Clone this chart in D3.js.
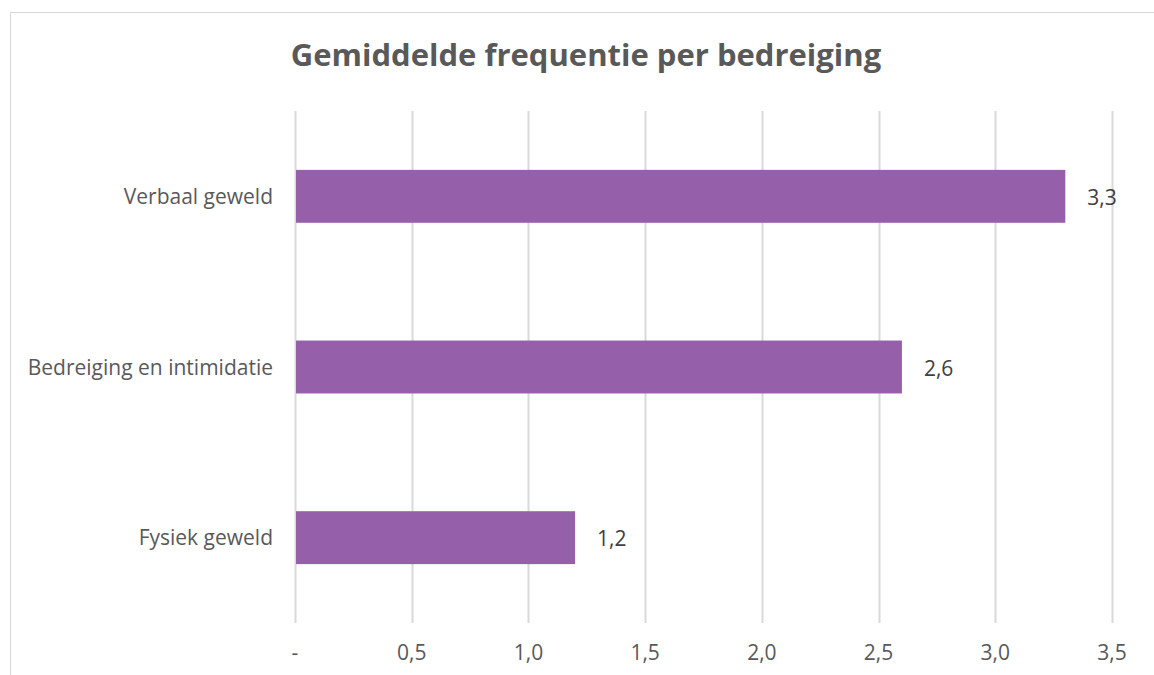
<!DOCTYPE html>
<html>
<head>
<meta charset="utf-8">
<script src="https://cdn.jsdelivr.net/npm/d3@7"></script>
<style>
  body { margin: 0; background: #fff; overflow: hidden; }
  text { font-family: "Open Sans", sans-serif; }
</style>
</head>
<body>
<svg id="chart" width="1154" height="675"></svg>
<script>
// Data
const categories = ["Verbaal geweld", "Bedreiging en intimidatie", "Fysiek geweld"];
const values = [3.3, 2.6, 1.2];
const tickValues = [0, 0.5, 1.0, 1.5, 2.0, 2.5, 3.0, 3.5];
const tickLabels = ["-", "0,5", "1,0", "1,5", "2,0", "2,5", "3,0", "3,5"];
const title = "Gemiddelde frequentie per bedreiging";

const svg = d3.select("#chart");

// chart border (runs off the right/bottom edge like the source)
svg.append("rect")
    .attr("x", 10.5).attr("y", 12.5)
    .attr("width", 1200).attr("height", 700)
    .attr("fill", "none")
    .attr("stroke", "#d9d9d9")
    .attr("stroke-width", 1);

svg.append("text")
    .attr("x", 586).attr("y", 66)
    .attr("text-anchor", "middle")
    .attr("font-size", 31)
    .attr("font-weight", "bold")
    .attr("fill", "#595959")
    .text(title);

const plot = { left: 295, right: 1112, top: 111, bottom: 623 };

const x = d3.scaleLinear()
    .domain([0, 3.5])
    .range([plot.left, plot.right]);

const y = d3.scaleBand()
    .domain(categories)
    .range([plot.top, plot.bottom])
    .paddingInner(0.69)
    .paddingOuter(0.345);

// gridlines
svg.append("g")
    .selectAll("line")
    .data(tickValues)
    .enter().append("line")
    .attr("x1", d => Math.round(x(d)) + 0.5)
    .attr("x2", d => Math.round(x(d)) + 0.5)
    .attr("y1", plot.top)
    .attr("y2", plot.bottom)
    .attr("stroke", "#d9d9d9")
    .attr("stroke-width", 2);

// tick labels
svg.append("g")
    .selectAll("text")
    .data(tickValues)
    .enter().append("text")
    .attr("x", d => x(d))
    .attr("y", 660)
    .attr("text-anchor", "middle")
    .attr("font-size", 21)
    .attr("fill", "#595959")
    .text((d, i) => tickLabels[i]);

// bars
svg.append("g")
    .selectAll("rect")
    .data(values)
    .enter().append("rect")
    .attr("x", x(0) + 1)
    .attr("y", (d, i) => y(categories[i]))
    .attr("width", d => x(d) - x(0) - 1)
    .attr("height", y.bandwidth())
    .attr("fill", "#955fa9");

// category labels
svg.append("g")
    .selectAll("text")
    .data(categories)
    .enter().append("text")
    .attr("x", 273)
    .attr("y", d => y(d) + y.bandwidth() / 2)
    .attr("dy", "0.36em")
    .attr("text-anchor", "end")
    .attr("font-size", 21)
    .attr("fill", "#595959")
    .text(d => d);

// value labels
svg.append("g")
    .selectAll("text")
    .data(values)
    .enter().append("text")
    .attr("x", d => x(d) + 22)
    .attr("y", (d, i) => y(categories[i]) + y.bandwidth() / 2 + 1)
    .attr("dy", "0.36em")
    .attr("font-size", 21)
    .attr("fill", "#404040")
    .text(d => d.toFixed(1).replace(".", ","));
</script>
</body>
</html>
